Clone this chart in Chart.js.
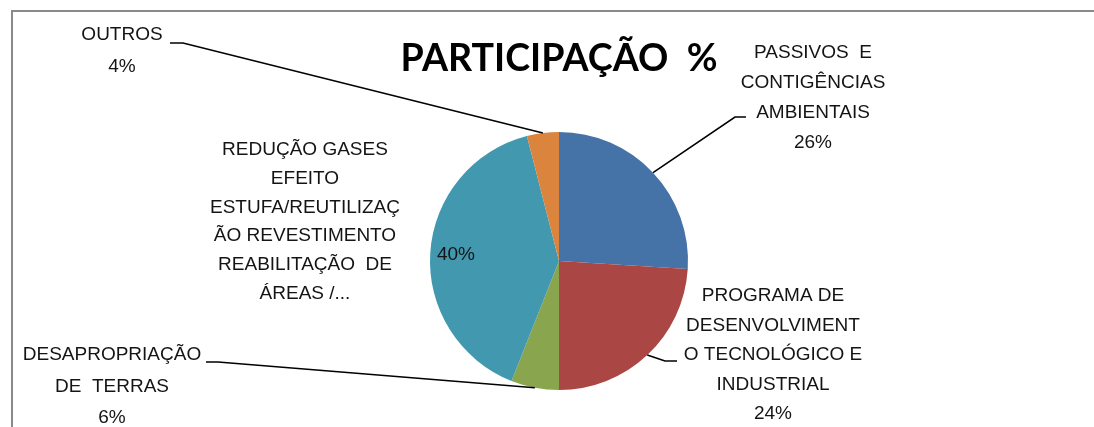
<!DOCTYPE html>
<html><head><meta charset="utf-8">
<script src="https://cdn.jsdelivr.net/npm/chart.js@4"></script>
<style>
html,body{margin:0;padding:0;background:#fff;}
#wrap{position:relative;width:1094px;height:427px;overflow:hidden;}
#frame{position:absolute;left:11px;top:10px;width:1083px;height:430px;border-left:2px solid #8a8a8a;border-top:2px solid #8a8a8a;}
canvas{position:absolute;left:0;top:0;}
</style></head><body>
<div id="wrap"><div id="frame"></div><canvas id="c" width="1094" height="427"></canvas></div>
<script>
const titleText = 'PARTICIPAÇÃO  %';
const categories = [
  ['PASSIVOS  E', 'CONTIGÊNCIAS', 'AMBIENTAIS'],
  ['PROGRAMA DE', 'DESENVOLVIMENT', 'O TECNOLÓGICO E', 'INDUSTRIAL'],
  ['DESAPROPRIAÇÃO', 'DE  TERRAS'],
  ['REDUÇÃO GASES', 'EFEITO', 'ESTUFA/REUTILIZAÇ', 'ÃO REVESTIMENTO', 'REABILITAÇÃO  DE', 'ÁREAS /...'],
  ['OUTROS']
];
const values = [26, 24, 6, 40, 4];
const colors = ['#4572A7', '#AA4643', '#89A54E', '#4198AF', '#DB843D'];

// label placement (styling/layout only)
const labelLayout = [
  { cx: 813, y0: 52.5, lh: 30, pctInside: false, elbow: [735, 117], end: [746, 117] },
  { cx: 773, y0: 296, lh: 29.5, pctInside: false, elbow: [665, 361], end: [677, 361] },
  { cx: 112, y0: 355, lh: 31.5, pctInside: false, elbow: [218, 362], end: [206, 362] },
  { cx: 305, y0: 149.5, lh: 28.9, pctInside: true, elbow: null, end: null },
  { cx: 122, y0: 35, lh: 32, pctInside: false, elbow: [183, 43], end: [170, 43] }
];

const labelFont = '19px "Liberation Sans", Arial, sans-serif';
const textColor = '#141414';

const labelPlugin = {
  id: 'excelLabels',
  afterDraw(chart) {
    const ctx = chart.ctx;
    const meta = chart.getDatasetMeta(0);
    const data = chart.data.datasets[0].data;
    const total = data.reduce((a, b) => a + b, 0);
    ctx.save();
    // title
    ctx.font = 'bold 39px Lato, "Liberation Sans", Arial, sans-serif';
    ctx.fillStyle = '#000';
    ctx.textBaseline = 'alphabetic';
    ctx.textAlign = 'center';
    const tw = ctx.measureText(titleText).width;
    const sx = Math.min(1, 317 / tw);
    const area = chart.chartArea;
    const tcx = (area.left + area.right) / 2;
    ctx.save();
    ctx.translate(tcx, 71);
    ctx.scale(sx, 1);
    ctx.fillText(titleText, 0, 0);
    ctx.restore();

    ctx.font = labelFont;
    ctx.fillStyle = textColor;
    ctx.textBaseline = 'middle';
    ctx.textAlign = 'center';
    meta.data.forEach((arc, i) => {
      const p = arc.getProps(['x', 'y', 'startAngle', 'endAngle', 'outerRadius'], true);
      const mid = (p.startAngle + p.endAngle) / 2;
      const pct = Math.round(data[i] / total * 100) + '%';
      const L = labelLayout[i];
      const lines = chart.data.labels[i].slice();
      if (!L.pctInside) lines.push(pct);
      lines.forEach((t, k) => ctx.fillText(t, L.cx, L.y0 + k * L.lh));
      if (L.pctInside) {
        const r = p.outerRadius * 0.8;
        ctx.fillText(pct, p.x + Math.cos(mid) * r, p.y + Math.sin(mid) * r);
      }
      if (L.elbow) {
        const ex = p.x + Math.cos(mid) * p.outerRadius;
        const ey = p.y + Math.sin(mid) * p.outerRadius;
        ctx.beginPath();
        ctx.strokeStyle = '#000';
        ctx.lineWidth = 1.6;
        ctx.moveTo(ex, ey);
        ctx.lineTo(L.elbow[0], L.elbow[1]);
        ctx.lineTo(L.end[0], L.end[1]);
        ctx.stroke();
      }
    });
    ctx.restore();
  }
};

new Chart(document.getElementById('c'), {
  type: 'pie',
  data: {
    labels: categories,
    datasets: [{
      data: values,
      backgroundColor: colors,
      borderWidth: 0,
      hoverOffset: 0
    }]
  },
  options: {
    responsive: false,
    animation: false,
    layout: { padding: { left: 429, right: 405, top: 132, bottom: 37 } },
    plugins: { legend: { display: false }, tooltip: { enabled: false }, title: { display: false } }
  },
  plugins: [labelPlugin]
});
</script>
</body></html>
